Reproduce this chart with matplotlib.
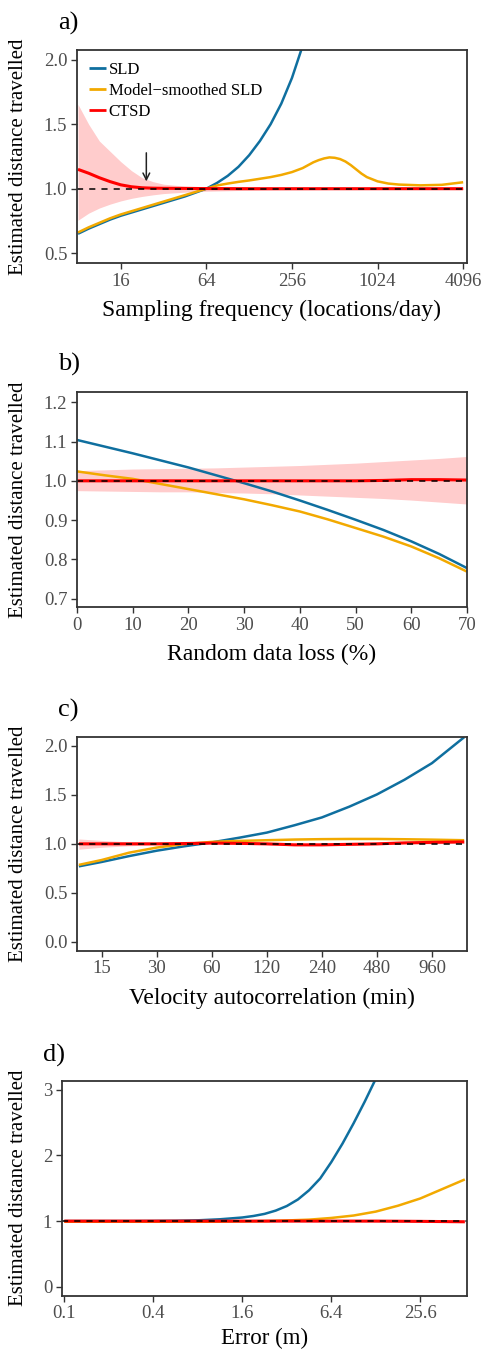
import matplotlib
matplotlib.use("Agg")
import matplotlib.pyplot as plt
import numpy as np

plt.rcParams['font.family'] = ['Liberation Serif', 'DejaVu Serif']

BLUE = "#0f6f9f"
ORANGE = "#f2a900"
RED = "#ff0000"

# ---- a) sampling frequency, given as log2(locations/day)
lf_sld_a = [3, 3.25, 3.5, 3.75, 4, 4.25, 4.5, 4.75, 5, 5.25, 5.5, 5.75, 6,
            6.25, 6.5, 6.75, 7, 7.25, 7.5, 7.75, 8, 8.25, 8.5]
sld_a = [0.65, 0.69, 0.725, 0.76, 0.79, 0.815, 0.84, 0.865, 0.89, 0.915, 0.94, 0.97, 1.0,
         1.045, 1.10, 1.17, 1.26, 1.37, 1.50, 1.66, 1.86, 2.11, 2.43]
lf_msld_a = [3, 3.25, 3.5, 3.75, 4, 4.25, 4.5, 4.75, 5, 5.25, 5.5, 5.75, 6,
             6.25, 6.5, 6.75, 7, 7.25, 7.5, 7.75, 8, 8.25, 8.5, 8.625, 8.75, 8.875, 9,
             9.125, 9.25, 9.375, 9.5, 9.625, 9.75, 10, 10.25, 10.5, 11, 11.5, 12]
msld_a = [0.66, 0.70, 0.735, 0.77, 0.80, 0.825, 0.85, 0.875, 0.90, 0.925, 0.95, 0.975, 1.0,
          1.025, 1.04, 1.053, 1.064, 1.077, 1.09, 1.107, 1.129, 1.16, 1.205, 1.222, 1.235,
          1.243, 1.24, 1.23, 1.211, 1.183, 1.15, 1.117, 1.09, 1.057, 1.04, 1.032, 1.026,
          1.03, 1.05]
lf_ctsd_a = [3, 3.25, 3.5, 3.75, 4, 4.25, 4.5, 4.75, 5, 5.5, 6, 7, 8, 9, 10, 11, 12]
ctsd_a = [1.15, 1.12, 1.085, 1.055, 1.03, 1.015, 1.007, 1.004, 1.003, 1.002, 1.001,
          1.0, 1.0, 1.0, 1.0, 1.0, 1.0]
hi_a = [1.655, 1.50, 1.37, 1.29, 1.21, 1.14, 1.085, 1.055, 1.035, 1.02, 1.015,
        1.01, 1.008, 1.007, 1.006, 1.005, 1.005]
lo_a = [0.755, 0.81, 0.85, 0.88, 0.905, 0.925, 0.94, 0.952, 0.962, 0.973, 0.98,
        0.988, 0.991, 0.993, 0.994, 0.995, 0.995]

# ---- b) random data loss (%)
loss_b = [0, 5, 10, 15, 20, 25, 30, 35, 40, 45, 50, 55, 60, 65, 70]
sld_b = [1.104, 1.087, 1.07, 1.052, 1.034, 1.014, 0.994, 0.973, 0.95, 0.926, 0.901, 0.875,
         0.846, 0.814, 0.778]
msld_b = [1.024, 1.014, 1.005, 0.992, 0.979, 0.966, 0.953, 0.938, 0.922, 0.902, 0.88, 0.858,
          0.833, 0.803, 0.769]
ctsd_b = [1.0, 1.0, 1.0, 1.0, 1.0, 1.0, 1.0, 1.0, 1.0, 1.0, 1.0, 1.001, 1.003, 1.003, 1.002]
hi_b = [1.026, 1.028, 1.030, 1.031, 1.032, 1.033, 1.035, 1.037, 1.039, 1.042, 1.045, 1.049,
        1.053, 1.057, 1.062]
lo_b = [0.975, 0.974, 0.973, 0.972, 0.972, 0.97, 0.969, 0.967, 0.964, 0.961, 0.958, 0.955,
        0.951, 0.946, 0.941]

# ---- c) velocity autocorrelation (min)
tau_c = [11.25, 15, 21.2, 30, 42.4, 60, 84.9, 120, 170, 240, 339, 480, 679, 960, 1440]
sld_c = [0.77, 0.815, 0.875, 0.93, 0.975, 1.015, 1.063, 1.115, 1.19, 1.27, 1.38, 1.505,
         1.655, 1.825, 2.09]
msld_c = [0.785, 0.835, 0.91, 0.962, 0.998, 1.02, 1.03, 1.037, 1.044, 1.048, 1.05, 1.05,
          1.047, 1.043, 1.037]
ctsd_c = [1.0, 1.0, 1.0, 1.0, 1.003, 1.008, 1.005, 1.0, 0.99, 0.99, 0.995, 1.0, 1.01,
          1.015, 1.02]
hi_c = [1.05, 1.035, 1.02, 1.015, 1.015, 1.02, 1.017, 1.012, 1.003, 1.0, 1.005, 1.012,
        1.022, 1.03, 1.035]
lo_c = [0.945, 0.965, 0.98, 0.99, 0.993, 1.0, 0.995, 0.99, 0.98, 0.98, 0.985, 0.99, 0.997,
        1.0, 1.005]

# ---- d) error, given as doublings above 0.1 m
k_sld_d = [0, 0.5, 1, 1.5, 2, 2.5, 3, 3.5, 4, 4.25, 4.5, 4.75, 5, 5.25, 5.5, 5.75, 6,
           6.25, 6.5, 6.75, 7, 7.25]
sld_d = [1.0, 1.0, 1.0, 1.0, 1.002, 1.005, 1.012, 1.028, 1.055, 1.078, 1.11, 1.16, 1.23,
         1.33, 1.47, 1.65, 1.90, 2.18, 2.49, 2.82, 3.17, 3.55]
k_msld_d = [0, 1, 2, 3, 3.5, 4, 4.5, 5, 5.5, 6, 6.5, 7, 7.5, 8, 8.5, 9]
msld_d = [0.99, 0.99, 0.99, 0.99, 0.992, 0.996, 1.0, 1.01, 1.022, 1.048, 1.085, 1.145, 1.235,
          1.345, 1.49, 1.635]
k_ctsd_d = [0, 1, 2, 3, 4, 5, 6, 7, 7.5, 8, 8.5, 9]
ctsd_d = [1.0, 1.0, 1.0, 1.0, 1.0, 1.0, 1.0, 1.0, 0.998, 0.996, 0.993, 0.99]
hi_d = [1.008, 1.008, 1.008, 1.008, 1.008, 1.009, 1.01, 1.011, 1.011, 1.011, 1.01, 1.01]
lo_d = [0.992, 0.992, 0.992, 0.992, 0.992, 0.991, 0.99, 0.988, 0.986, 0.983, 0.979, 0.975]


W, H = 482, 1351
fig = plt.figure(figsize=(W / 100, H / 100), dpi=100)


def box(l, t, r, b):
    return [l / W, 1 - b / H, (r - l) / W, (b - t) / H]


def style(ax):
    for s in ax.spines.values():
        s.set_color("#333333")
        s.set_linewidth(1.3)
    ax.tick_params(axis='both', which='major', length=4, width=1.0, color="#333333",
                   labelcolor="#4d4d4d", labelsize=13.5, pad=3)
    ax.tick_params(axis='both', which='minor', length=0)


def draw(ax, xs, sld, xm, msld, xc, ctsd, lo, hi):
    ax.plot(xs, sld, color=BLUE, lw=1.8, label="SLD", solid_capstyle='butt')
    ax.plot(xm, msld, color=ORANGE, lw=1.8, label="Model\u2212smoothed SLD",
            solid_capstyle='butt')
    ax.fill_between(xc, lo, hi, color=RED, alpha=0.2, lw=0)
    ax.plot(xc, ctsd, color=RED, lw=2.2, label="CTSD", solid_capstyle='butt')
    ax.axhline(1.0, color="black", lw=1.1, ls=(0, (4, 4)))


def labels(ax, xl, ycoord, xlsize=17, xlpos=-0.172):
    style(ax)
    ax.set_xlabel(xl, fontsize=xlsize)
    ax.xaxis.set_label_coords(0.5, xlpos)
    ax.set_ylabel("Estimated distance travelled", fontsize=15)
    ax.yaxis.set_label_coords(ycoord, 0.5)


# a)
ax = fig.add_axes(box(77, 50, 467, 263))
draw(ax, 2.0 ** np.array(lf_sld_a), sld_a, 2.0 ** np.array(lf_msld_a), msld_a,
     2.0 ** np.array(lf_ctsd_a), ctsd_a, lo_a, hi_a)
ax.set_xscale('log', base=2)
ax.set_xlim(2 ** 2.977, 2 ** 12.09)
ax.set_ylim(0.423, 2.077)
ax.set_xticks([16, 64, 256, 1024, 4096])
ax.set_xticklabels(["16", "64", "256", "1024", "4096"])
ax.set_yticks([0.5, 1.0, 1.5, 2.0])
ax.set_yticklabels(["0.5", "1.0", "1.5", "2.0"])
ax.annotate("", xy=(24.2, 1.035), xytext=(24.2, 1.30),
            arrowprops=dict(arrowstyle="->", color="#222222", lw=1.1, mutation_scale=12))
labels(ax, "Sampling frequency (locations/day)", -0.126)
leg = ax.legend(loc='upper left', bbox_to_anchor=(0.0, 1.0), frameon=False, fontsize=12,
                handlelength=1.05, handletextpad=0.15, labelspacing=0.3, borderaxespad=0.3)
for ln in leg.get_lines():
    ln.set_linewidth(2.0)

# b)
ax = fig.add_axes(box(77, 392, 467, 607))
draw(ax, loss_b, sld_b, loss_b, msld_b, loss_b, ctsd_b, lo_b, hi_b)
ax.set_xlim(0, 70)
ax.set_ylim(0.679, 1.226)
ax.set_xticks([0, 10, 20, 30, 40, 50, 60, 70])
ax.set_yticks([0.7, 0.8, 0.9, 1.0, 1.1, 1.2])
ax.set_yticklabels(["0.7", "0.8", "0.9", "1.0", "1.1", "1.2"])
labels(ax, "Random data loss (%)", -0.126)

# c)
ax = fig.add_axes(box(77, 736.7, 467, 950.7))
draw(ax, tau_c, sld_c, tau_c, msld_c, tau_c, ctsd_c, lo_c, hi_c)
ax.set_xscale('log', base=2)
ax.set_xlim(2 ** 3.458, 2 ** 10.543)
ax.set_ylim(-0.092, 2.095)
ax.set_xticks([15, 30, 60, 120, 240, 480, 960])
ax.set_xticklabels(["15", "30", "60", "120", "240", "480", "960"])
ax.set_yticks([0.0, 0.5, 1.0, 1.5, 2.0])
ax.set_yticklabels(["0.0", "0.5", "1.0", "1.5", "2.0"])
labels(ax, "Velocity autocorrelation (min)", -0.126)

# d)
ax = fig.add_axes(box(62, 1080.7, 467, 1295.7))
draw(ax, 0.1 * 2.0 ** np.array(k_sld_d), sld_d, 0.1 * 2.0 ** np.array(k_msld_d), msld_d,
     0.1 * 2.0 ** np.array(k_ctsd_d), ctsd_d, lo_d, hi_d)
ax.set_xscale('log', base=2)
ax.set_xlim(2 ** -3.374, 2 ** 5.727)
ax.set_ylim(-0.137, 3.14)
ax.set_xticks([0.1, 0.4, 1.6, 6.4, 25.6])
ax.set_xticklabels(["0.1", "0.4", "1.6", "6.4", "25.6"])
ax.set_yticks([0, 1, 2, 3])
labels(ax, "Error (m)", -0.084, xlsize=16.5, xlpos=-0.148)

# panel letters
for lab, x, y in [("a)", 58, 23), ("b)", 58, 364), ("c)", 58, 710), ("d)", 43, 1055)]:
    fig.text(x / W, 1 - y / H, lab, fontsize=19, ha='left', va='center')

fig.savefig("out.png", dpi=100)
